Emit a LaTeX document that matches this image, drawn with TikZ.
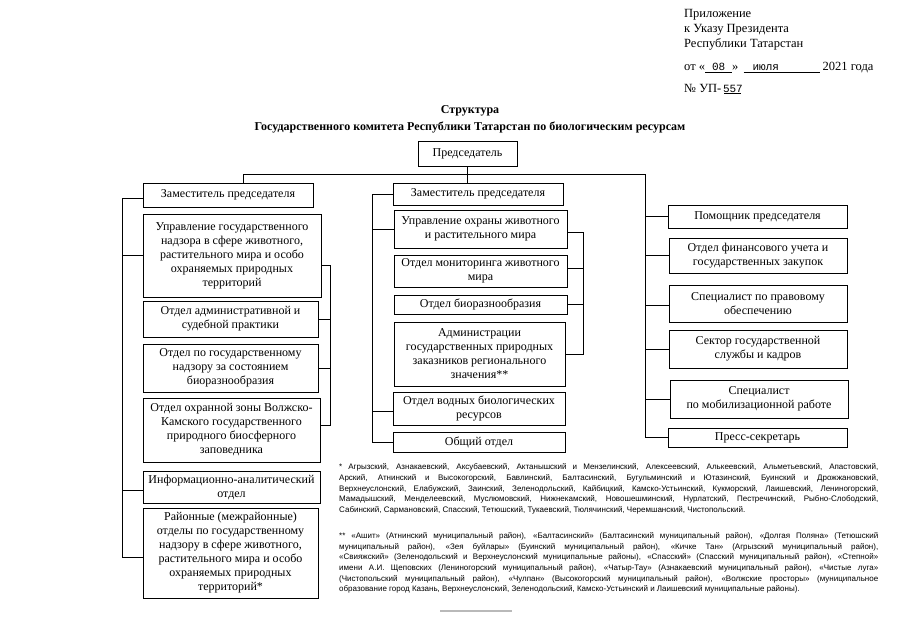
\documentclass[tikz,border=0pt]{standalone}
\usepackage{fontspec}
\setmainfont{Liberation Serif}
\newfontfamily\fnfont{Liberation Sans}
\newfontfamily\fillfont{Liberation Mono}
\newcommand\bxnode[6]{\node[box,minimum width={#4-#2},minimum height={#5-#3}] (#1) at ({(#2+#4)/2},{(#3+#5)/2}) {#6};}
\begin{document}
\begin{tikzpicture}[x=1pt,y=-1pt,
  box/.style={draw,line width=0.9pt,align=center,inner sep=0pt,font=\fontsize{12}{14}\selectfont},
  conn/.style={line width=0.8pt},
  hdr/.style={anchor=west,inner sep=0pt,font=\fontsize{12.5}{14}\selectfont},
  fnline/.style={anchor=west,inner sep=0pt,font=\fnfont\fontsize{8}{9}\selectfont}]
\useasboundingbox (0,0) rectangle (905,640);
\fill[white] (0,0) rectangle (905,640);

% header
\node[hdr] (h1) at (684,15) {Приложение};
\node[hdr] (h2) at (684,30) {к Указу Президента};
\node[hdr] (h3) at (684,44) {Республики Татарстан};
\node[hdr] (h4) at (684,68) {от «\underline{\makebox[27pt]{\fillfont\fontsize{11}{12}\selectfont 08}}»\, \underline{\makebox[76pt][l]{\hspace{9pt}\fillfont\fontsize{11}{12}\selectfont июля}} 2021 года};
\node[hdr] (h5) at (684,89) {№ УП- \underline{\makebox[17pt]{\fillfont\fontsize{11}{12}\selectfont 557}}};

% title
\node[inner sep=0pt,font=\bfseries\fontsize{12}{14}\selectfont] (t1) at (470,111) {Структура};
\node[inner sep=0pt,font=\bfseries\fontsize{12}{14}\selectfont] (t2) at (470,127) {Государственного комитета Республики Татарстан по биологическим ресурсам};

% boxes
\bxnode{pred}{418}{141}{517}{166}{Председатель}

\bxnode{lz}{143}{183}{313}{207}{Заместитель председателя}
\bxnode{lu}{143}{214}{321}{297}{Управление государственного\\надзора в сфере животного,\\растительного мира и особо\\охраняемых природных\\территорий}
\bxnode{ladm}{143}{301}{318}{337}{Отдел административной и\\судебной практики}
\bxnode{lnad}{143}{344}{318}{392}{Отдел по государственному\\надзору за состоянием\\биоразнообразия}
\bxnode{lohr}{143}{398}{320}{462}{Отдел охранной зоны Волжско-\\Камского государственного\\природного биосферного\\заповедника}
\bxnode{linf}{143}{471}{320}{503}{Информационно-аналитический\\отдел}
\bxnode{lrn}{143}{508}{318}{598}{Районные (межрайонные)\\отделы по государственному\\надзору в сфере животного,\\растительного мира и особо\\охраняемых природных\\территорий*}

\bxnode{mz}{393}{183}{563}{205}{Заместитель председателя}
\bxnode{mu}{394}{210}{567}{248}{Управление охраны животного\\и растительного мира}
\bxnode{mon}{394}{255}{567}{287}{Отдел мониторинга животного\\мира}
\bxnode{bio}{394}{295}{567}{314}{Отдел биоразнообразия}
\bxnode{adm}{394}{322}{565}{386}{Администрации\\государственных природных\\заказников регионального\\значения**}
\bxnode{vod}{393}{392}{565}{425}{Отдел водных биологических\\ресурсов}
\bxnode{obsh}{393}{432}{565}{452}{Общий отдел}

\bxnode{pom}{668}{205}{847}{228}{Помощник председателя}
\bxnode{fin}{669}{238}{847}{273}{Отдел финансового учета и\\государственных закупок}
\bxnode{prav}{669}{285}{847}{322}{Специалист по правовому\\обеспечению}
\bxnode{sek}{669}{330}{847}{368}{Сектор государственной\\службы и кадров}
\bxnode{mob}{670}{380}{848}{418}{Специалист\\по мобилизационной работе}
\bxnode{press}{668}{428}{847}{447}{Пресс-секретарь}

% connectors
\coordinate (hL) at (243,174);
\coordinate (hR) at (645,174);
\coordinate (lv) at (122,0);
\coordinate (lr) at (330,0);
\coordinate (mv) at (372,0);
\coordinate (mr) at (583,0);
\draw[conn] (pred.south) -- (pred.south |- mz.north);
\draw[conn] (hL) -- (hR);
\draw[conn] (hL) -- (hL |- lz.north);
% left column
\draw[conn] ([yshift=-3pt]lz.west) -- ([yshift=-3pt]lz.west -| lv) |- ([yshift=-4pt]lrn.west);
\draw[conn] (lu.west) -- (lu.west -| lv);
\draw[conn] ([yshift=-3pt]linf.west) -- ([yshift=-3pt]linf.west -| lv);
\draw[conn] ([yshift=-10pt]lu.east) -- ([yshift=-10pt]lu.east -| lr) |- ([yshift=5pt]lohr.east);
\draw[conn] (ladm.east) -- (ladm.east -| lr);
\draw[conn] (lnad.east) -- (lnad.east -| lr);
% middle column
\draw[conn] (mz.west) -- (mz.west -| mv) |- (obsh.west);
\draw[conn] (mu.west) -- (mu.west -| mv);
\draw[conn] ([yshift=-3pt]vod.west) -- ([yshift=-3pt]vod.west -| mv);
\draw[conn] ([yshift=-3pt]mu.east) -- ([yshift=-3pt]mu.east -| mr) |- (adm.east);
\draw[conn] ([yshift=3pt]mon.east) -- ([yshift=3pt]mon.east -| mr);
\draw[conn] (bio.east) -- (bio.east -| mr);
% right column
\draw[conn] (hR) |- (press.west);
\draw[conn] (pom.west) -- (pom.west -| hR);
\draw[conn] (fin.west) -- (fin.west -| hR);
\draw[conn] ([yshift=-2pt]prav.west) -- ([yshift=-2pt]prav.west -| hR);
\draw[conn] (sek.west) -- (sek.west -| hR);
\draw[conn] (mob.west) -- (mob.west -| hR);

% footnotes
\node[fnline] (f11) at (339,467) {\makebox[539pt][s]{* Агрызский, Азнакаевский, Аксубаевский, Актанышский и Мензелинский, Алексеевский, Алькеевский, Альметьевский, Апастовский,}};
\node[fnline] (f12) at (339,478) {\makebox[539pt][s]{Арский, Атнинский и Высокогорский, Бавлинский, Балтасинский, Бугульминский и Ютазинский, Буинский и Дрожжановский,}};
\node[fnline] (f13) at (339,489) {\makebox[539pt][s]{Верхнеуслонский, Елабужский, Заинский, Зеленодольский, Кайбицкий, Камско-Устьинский, Кукморский, Лаишевский, Лениногорский,}};
\node[fnline] (f14) at (339,499) {\makebox[539pt][s]{Мамадышский, Менделеевский, Муслюмовский, Нижнекамский, Новошешминский, Нурлатский, Пестречинский, Рыбно-Слободский,}};
\node[fnline] (f15) at (339,510) {Сабинский, Сармановский, Спасский, Тетюшский, Тукаевский, Тюлячинский, Черемшанский, Чистопольский.};

\node[fnline] (f21) at (339,536) {\makebox[539pt][s]{** «Ашит» (Атнинский муниципальный район), «Балтасинский» (Балтасинский муниципальный район), «Долгая Поляна» (Тетюшский}};
\node[fnline] (f22) at (339,547) {\makebox[539pt][s]{муниципальный район), «Зея буйлары» (Буинский муниципальный район), «Кичке Тан» (Агрызский муниципальный район),}};
\node[fnline] (f23) at (339,557) {\makebox[539pt][s]{«Свияжский» (Зеленодольский и Верхнеуслонский муниципальные районы), «Спасский» (Спасский муниципальный район), «Степной»}};
\node[fnline] (f24) at (339,568) {\makebox[539pt][s]{имени А.И. Щеповских (Лениногорский муниципальный район), «Чатыр-Тау» (Азнакаевский муниципальный район), «Чистые луга»}};
\node[fnline] (f25) at (339,579) {\makebox[539pt][s]{(Чистопольский муниципальный район), «Чулпан» (Высокогорский муниципальный район), «Волжские просторы» (муниципальное}};
\node[fnline] (f26) at (339,589) {образование город Казань, Верхнеуслонский, Зеленодольский, Камско-Устьинский и Лаишевский муниципальные районы).};

\draw[gray!55,line width=1.5pt] (440,611) -- (512,611);
\end{tikzpicture}
\end{document}
